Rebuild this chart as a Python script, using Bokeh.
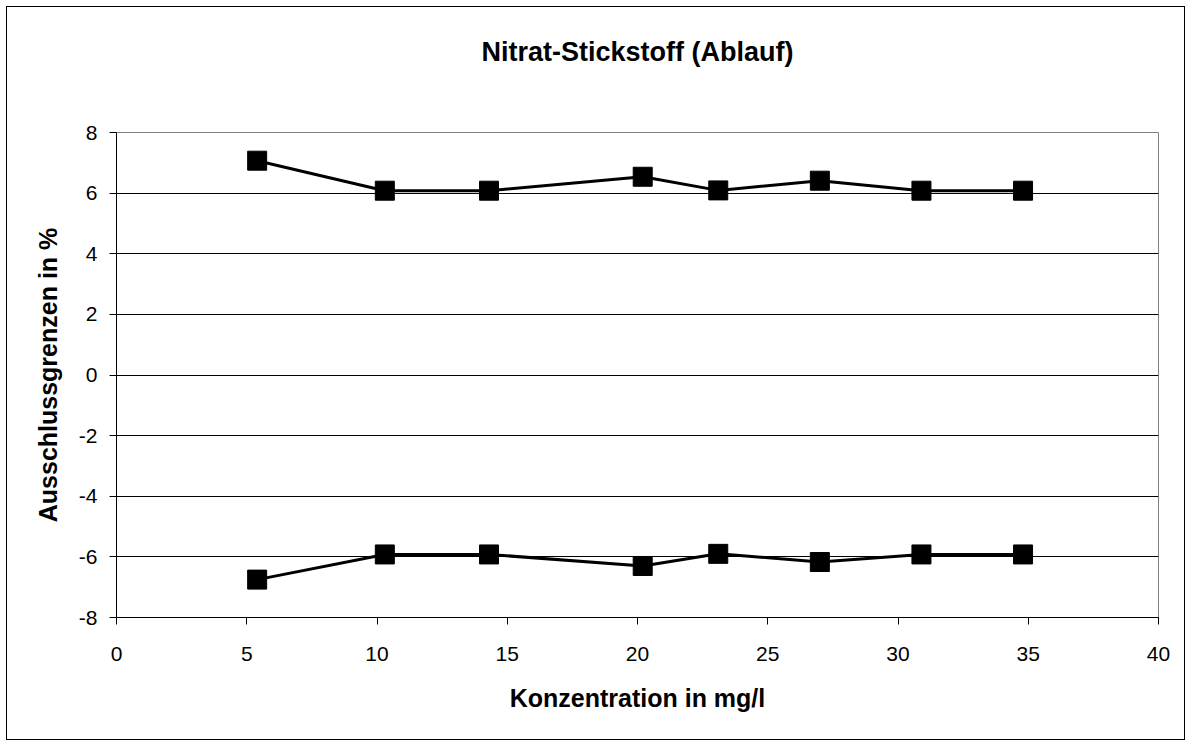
from bokeh.plotting import figure
from bokeh.models import Range1d, FixedTicker, Title
from bokeh.embed import file_html
from bokeh.resources import INLINE

# Data
konzentration = [5.4, 10.3, 14.3, 20.2, 23.1, 27.0, 30.9, 34.8]
obere_grenze = [7.07, 6.08, 6.08, 6.54, 6.09, 6.41, 6.08, 6.08]
untere_grenze = [-6.75, -5.92, -5.92, -6.30, -5.90, -6.17, -5.92, -5.92]
x_ticks = [0, 5, 10, 15, 20, 25, 30, 35, 40]
y_ticks = [-8, -6, -4, -2, 0, 2, 4, 6, 8]
grid_ticks = [-6, -4, -2, 0, 2, 4, 6]

FONT = "Liberation Sans"

p = figure(width=1179, height=734, title=None,
           x_range=Range1d(0, 40), y_range=Range1d(-8, 8),
           output_backend="svg", toolbar_location=None,
           min_border_left=109, min_border_right=28,
           min_border_top=125, min_border_bottom=124)
p.styles = {"border": "1px solid black", "margin": "6px 0 0 6px"}
p.background_fill_color = "white"
p.border_fill_color = "white"
p.outline_line_color = "#808080"
p.outline_line_width = 1

# spacer between frame and title, then the title itself (stacked outward)
p.add_layout(Title(text=" ", text_font_size="1px", standoff=58), "above")
p.add_layout(Title(text="Nitrat-Stickstoff (Ablauf)", align="center",
                   text_font=FONT, text_font_size="27px",
                   text_font_style="bold", text_color="black",
                   standoff=10), "above")

p.xgrid.visible = False
p.ygrid.ticker = FixedTicker(ticks=grid_ticks)
p.ygrid.grid_line_color = "black"
p.ygrid.grid_line_width = 1

for ax in (p.xaxis[0], p.yaxis[0]):
    ax.axis_line_color = "black"
    ax.axis_line_width = 1
    ax.major_tick_line_color = "black"
    ax.major_tick_in = 0
    ax.major_tick_out = 7
    ax.minor_tick_line_color = None
    ax.major_label_text_font = FONT
    ax.major_label_text_font_size = "21px"
    ax.major_label_text_color = "black"
    ax.axis_label_text_font = FONT
    ax.axis_label_text_font_size = "25px"
    ax.axis_label_text_font_style = "bold"
    ax.axis_label_text_color = "black"

p.xaxis.ticker = FixedTicker(ticks=x_ticks)
p.yaxis.ticker = FixedTicker(ticks=y_ticks)
p.yaxis.major_label_overrides = {t: str(t) for t in y_ticks}
p.xaxis.major_label_standoff = 22
p.yaxis.major_label_standoff = 12
p.xaxis.axis_label = "Konzentration in mg/l"
p.yaxis.axis_label = "Ausschlussgrenzen in %"
p.xaxis.axis_label_standoff = 20
p.yaxis.axis_label_standoff = 14

for series in (obere_grenze, untere_grenze):
    p.line(konzentration, series, line_color="black", line_width=3)
    p.scatter(konzentration, series, marker="square", size=19,
              fill_color="black", line_color="black")

open("out.html", "w").write(file_html(p, INLINE))
